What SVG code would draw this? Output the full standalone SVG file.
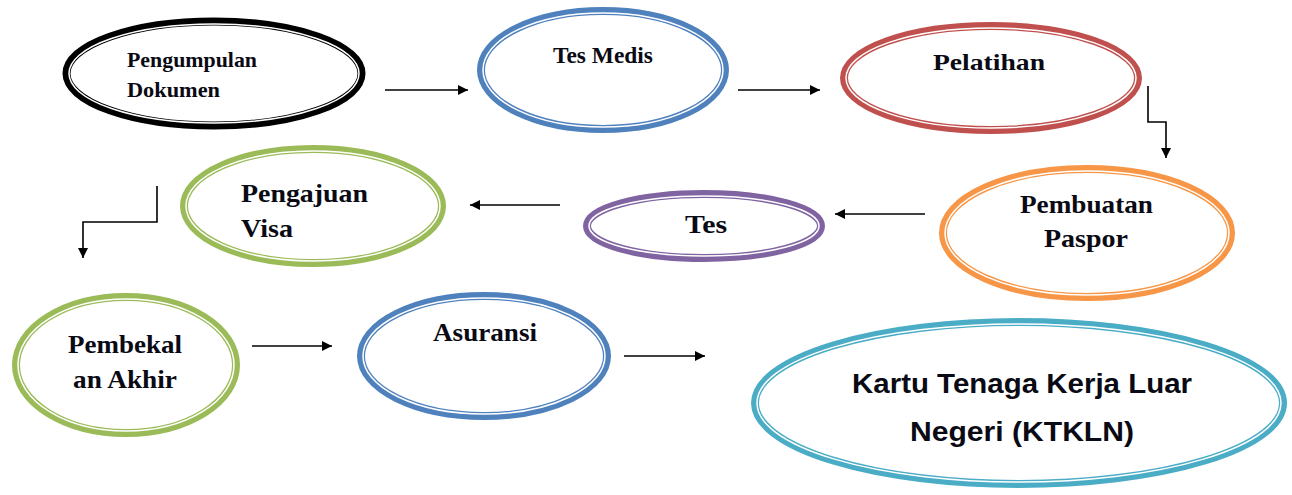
<svg xmlns="http://www.w3.org/2000/svg" width="1292" height="495" viewBox="0 0 1292 495">
<style>
.o{fill:#fff;stroke-width:8}
.g{fill:none;stroke:#fff;stroke-width:1.5}
.t{font-family:"Liberation Serif","Times New Roman",serif;font-weight:bold;fill:#0a0a14;font-size:25px}
.s{font-family:"Liberation Sans","Noto Sans",sans-serif;font-weight:bold;fill:#0a0a14;font-size:27px}
.c{fill:none;stroke:#000;stroke-width:1.6;marker-end:url(#ah)}
</style>
<defs>
<marker id="ah" viewBox="0 0 10 10" refX="10" refY="5" markerWidth="10" markerHeight="10" markerUnits="userSpaceOnUse" orient="auto">
<path d="M0,0 L10,5 L0,10 Z" fill="#000"/>
</marker>
</defs>
<rect width="1292" height="495" fill="#fff"/>
<g id="connectors">
<path class="c" d="M385,90 H468"/>
<path class="c" d="M738,90 H820"/>
<path class="c" d="M1148,86 V122 H1166 V158"/>
<path class="c" d="M925,214 H835"/>
<path class="c" d="M560,205 H470"/>
<path class="c" d="M157,186 V222 H83 V258"/>
<path class="c" d="M252,346 H332"/>
<path class="c" d="M624,356 H705"/>
</g>
<g id="n1">
<ellipse class="o" cx="214" cy="73.5" rx="147.5" ry="52" stroke="#000" stroke-width="9"/>
<ellipse class="g" cx="214" cy="73.5" rx="145" ry="49.5"/>
<text class="t" x="127" y="67" style="font-size:22px" textLength="130" lengthAdjust="spacingAndGlyphs">Pengumpulan</text>
<text class="t" x="127" y="97" style="font-size:22px" textLength="93" lengthAdjust="spacingAndGlyphs">Dokumen</text>
</g>
<g id="n2">
<ellipse class="o" cx="603" cy="70" rx="122" ry="59" stroke="#4F81BD"/>
<ellipse class="g" cx="603" cy="70" rx="120" ry="57"/>
<text class="t" x="553" y="63" style="font-size:24px" textLength="100" lengthAdjust="spacingAndGlyphs">Tes Medis</text>
</g>
<g id="n3">
<ellipse class="o" cx="991" cy="78" rx="147" ry="52" stroke="#C0504D"/>
<ellipse class="g" cx="991" cy="78" rx="145" ry="50"/>
<text class="t" x="933" y="70" style="font-size:24px" textLength="112" lengthAdjust="spacingAndGlyphs">Pelatihan</text>
</g>
<g id="n4">
<ellipse class="o" cx="1087" cy="233" rx="144" ry="64" stroke="#F79646"/>
<ellipse class="g" cx="1087" cy="233" rx="142" ry="62"/>
<text class="t" x="1020" y="213" textLength="133" lengthAdjust="spacingAndGlyphs">Pembuatan</text>
<text class="t" x="1044" y="247" textLength="84" lengthAdjust="spacingAndGlyphs">Paspor</text>
</g>
<g id="n5">
<ellipse class="o" cx="704" cy="226" rx="117" ry="32" stroke="#8064A2"/>
<ellipse class="g" cx="704" cy="226" rx="115" ry="30"/>
<text class="t" x="685" y="233" style="font-size:26px" textLength="42" lengthAdjust="spacingAndGlyphs">Tes</text>
</g>
<g id="n6">
<ellipse class="o" cx="313" cy="206" rx="129" ry="57" stroke="#9BBB59"/>
<ellipse class="g" cx="313" cy="206" rx="127" ry="55"/>
<text class="t" x="241" y="202" textLength="127" lengthAdjust="spacingAndGlyphs">Pengajuan</text>
<text class="t" x="241" y="237" textLength="52" lengthAdjust="spacingAndGlyphs">Visa</text>
</g>
<g id="n7">
<ellipse class="o" cx="126" cy="365" rx="110" ry="68" stroke="#9BBB59"/>
<ellipse class="g" cx="126" cy="365" rx="108" ry="66"/>
<text class="t" x="68" y="353" textLength="114" lengthAdjust="spacingAndGlyphs">Pembekal</text>
<text class="t" x="73" y="388" textLength="104" lengthAdjust="spacingAndGlyphs">an Akhir</text>
</g>
<g id="n8">
<ellipse class="o" cx="484" cy="356" rx="123" ry="60" stroke="#4F81BD"/>
<ellipse class="g" cx="484" cy="356" rx="121" ry="58"/>
<text class="t" x="433" y="341" textLength="104" lengthAdjust="spacingAndGlyphs">Asuransi</text>
</g>
<g id="n9">
<ellipse class="o" cx="1019" cy="403" rx="264" ry="81" stroke="#4BACC6"/>
<ellipse class="g" cx="1019" cy="403" rx="262" ry="79"/>
<text class="s" x="1022" y="393" text-anchor="middle" textLength="340" lengthAdjust="spacingAndGlyphs">Kartu Tenaga Kerja Luar</text>
<text class="s" x="1022" y="441" text-anchor="middle" textLength="224" lengthAdjust="spacingAndGlyphs">Negeri (KTKLN)</text>
</g>
</svg>
